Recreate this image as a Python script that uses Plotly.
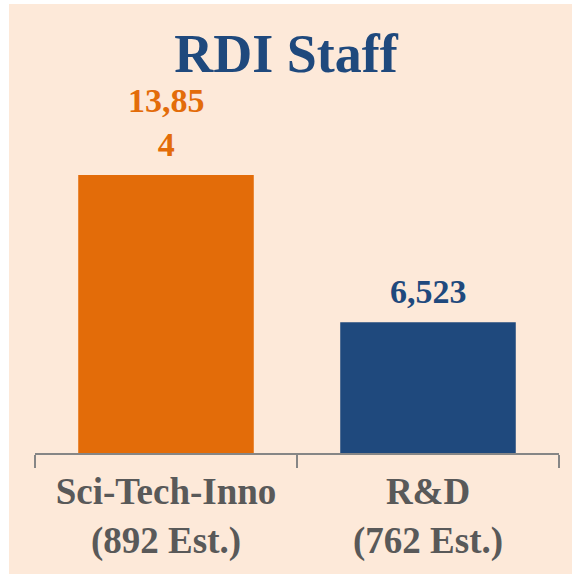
import plotly.graph_objects as go

categories = ["Sci-Tech-Inno<br>(892 Est.)", "R&D<br>(762 Est.)"]
staff = [13854, 6523]
value_labels = ["13,85<br>4", "6,523"]
bar_colors = ["#E36C09", "#1F497D"]

PEACH = "#FDE9D9"
SERIF = "Liberation Serif"

fig = go.Figure(go.Bar(
    x=categories, y=staff,
    marker=dict(color=bar_colors, line=dict(width=0)),
    width=0.67,
))

for cat, val, lab, col in zip(categories, staff, value_labels, bar_colors):
    fig.add_annotation(x=cat, y=val, text=lab, showarrow=False,
                       yanchor="bottom", yshift=10,
                       font=dict(family=SERIF, size=34, color=col, weight="bold"))

# peach panel with thin white border at left/top
fig.add_shape(type="rect", xref="paper", yref="paper",
              x0=-0.0496, x1=1.03, y0=-0.4, y1=1.399,
              fillcolor=PEACH, line=dict(width=0), layer="below")

fig.update_layout(
    width=572, height=574,
    margin=dict(l=35, r=13, t=132, b=119),
    paper_bgcolor="white", plot_bgcolor=PEACH,
    showlegend=False,
    title=dict(text="RDI Staff", x=0.5, xanchor="center", y=0.907, yanchor="middle",
               yref="container",
               font=dict(family=SERIF, size=54, color="#1F497D", weight="bold")),
    xaxis=dict(showline=True, linecolor="#868686", linewidth=2,
               ticks="outside", tickson="boundaries", ticklen=13, tickwidth=2,
               tickcolor="#868686", showgrid=False, ticklabelstandoff=5,
               tickfont=dict(family=SERIF, size=37, color="#595959", weight="bold")),
    yaxis=dict(range=[0, 16000], visible=False, showgrid=False, zeroline=False),
)

fig.write_html("out.html", config={"displayModeBar": False},
               post_script="document.body.style.margin='0';")
